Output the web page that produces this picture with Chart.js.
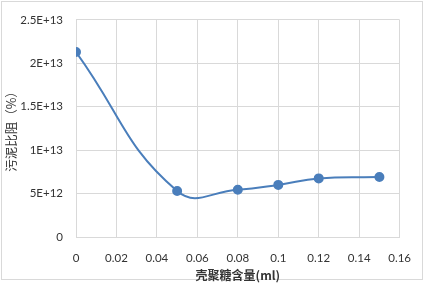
<!DOCTYPE html>
<html>
<head>
<meta charset="utf-8">
<script src="https://cdn.jsdelivr.net/npm/chart.js@4"></script>
<style>
  html, body { margin: 0; padding: 0; background: #fff; }
  #wrap { width: 425px; height: 283px; position: relative; }
</style>
</head>
<body>
<div id="wrap"><canvas id="c"></canvas></div>
<script>
const xValues = [0, 0.05, 0.08, 0.1, 0.12, 0.15];
const yValues = [2.13e13, 5.3e12, 5.45e12, 6.0e12, 6.75e12, 6.9e12];
const xTickLabels = ['0', '0.02', '0.04', '0.06', '0.08', '0.1', '0.12', '0.14', '0.16'];
const yTickLabels = ['0', '5E+12', '1E+13', '1.5E+13', '2E+13', '2.5E+13'];

const GRID = '#d9d9d9';
const TXT = '#333333';
const BLUE = '#4a7ebb';
const tickFont = { family: "Lato, 'Open Sans', sans-serif", size: 11.5 };

const frame = {
  id: 'frame',
  beforeDraw(chart) {
    const ctx = chart.ctx;
    ctx.save();
    ctx.fillStyle = '#fff';
    ctx.fillRect(0, 0, chart.width, chart.height);
    ctx.strokeStyle = GRID;
    ctx.lineWidth = 1;
    ctx.strokeRect(1.5, 1.5, 421, 278);
    ctx.restore();
  }
};

new Chart(document.getElementById('c'), {
  type: 'scatter',
  data: {
    datasets: [{
      data: xValues.map((x, i) => ({ x, y: yValues[i] })),
      showLine: true,
      borderColor: BLUE, backgroundColor: BLUE,
      borderWidth: 2, pointRadius: 4, pointHoverRadius: 4,
      tension: 0.45
    }]
  },
  options: {
    responsive: true, maintainAspectRatio: false, animation: false,
    layout: { padding: { top: 19, right: 22, left: 0, bottom: 0 } },
    plugins: { legend: { display: false }, tooltip: { enabled: false } },
    scales: {
      x: {
        type: 'linear', min: 0, max: 0.16,
        afterFit: s => { s.height = 46; },
        afterBuildTicks: s => { s.ticks = xTickLabels.map((t, i) => ({ value: i * 0.02 })); },
        grid: { color: GRID, drawTicks: false },
        border: { color: GRID },
        ticks: { color: TXT, font: tickFont, padding: 14, maxRotation: 0, autoSkip: false,
                 callback: (v, i) => xTickLabels[i] },
        title: { display: true, text: '壳聚糖含量(ml)', color: TXT, padding: { top: 0, bottom: 0 },
                 font: { family: "'Noto Sans CJK SC', sans-serif", size: 12, weight: 'bold' } }
      },
      y: {
        min: 0, max: 2.5e13,
        afterFit: s => { s.width = 76; },
        afterBuildTicks: s => { s.ticks = yTickLabels.map((t, i) => ({ value: i * 5e12 })); },
        grid: { color: GRID, drawTicks: false },
        border: { color: GRID },
        ticks: { color: TXT, font: tickFont, padding: 13,
                 callback: (v, i) => yTickLabels[i] },
        title: { display: true, text: '污泥比阻（%）', color: TXT, padding: { top: 4, bottom: 0 },
                 font: { family: "'Noto Sans CJK SC', sans-serif", size: 12.5 } }
      }
    }
  },
  plugins: [frame]
});
</script>
</body>
</html>
